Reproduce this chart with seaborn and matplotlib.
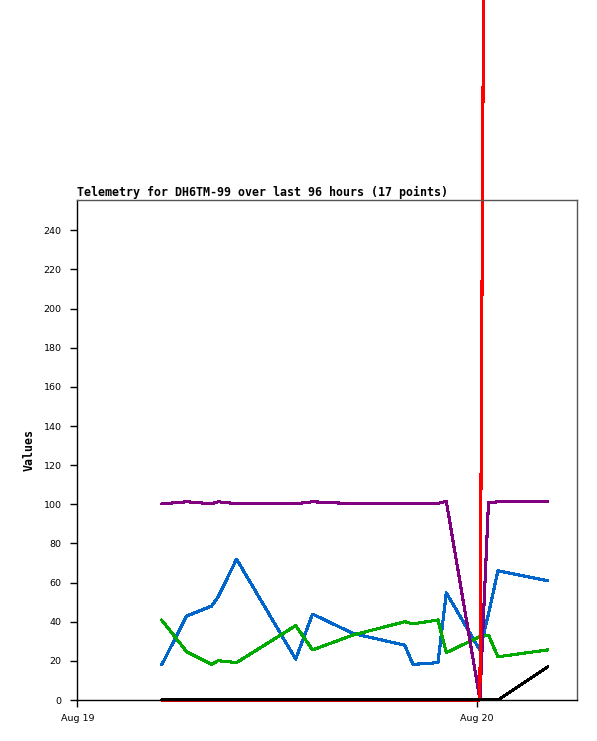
import pandas as pd
import seaborn as sns
import matplotlib.pyplot as plt
import matplotlib.dates as mdates

# sample times (Aug 19 2024, hh:mm, beyond 24h goes into Aug 20)
times = ["05:04", "06:34", "08:04", "08:28", "09:34", "13:07", "14:08", "16:34",
         "19:40", "20:10", "21:40", "22:10", "24:11", "24:42", "25:16", "28:16"]

blue_vals = [17.9, 42.9, 48.0, 52.8, 72.0, 20.9, 43.9, 34.0,
             28.0, 18.2, 19.1, 54.8, 25.5, 43.9, 66.0, 60.9]
green_vals = [40.9, 24.7, 18.3, 20.1, 19.1, 38.0, 25.6, 33.2,
              40.0, 38.9, 40.9, 24.2, 32.4, 33.2, 22.1, 25.6]
purple_vals = [100.2, 101.3, 100.3, 101.3, 100.3, 100.3, 101.3, 100.3,
               100.3, 100.3, 100.5, 101.5, 0.5, 100.8, 101.3, 101.3]
red_vals = [0, 0, 0, 0, 0, 0, 0, 0,
            0, 0, 0, 0, 0, 850, 850, 850]
black_vals = [0, 0, 0, 0, 0, 0, 0, 0,
              0, 0, 0, 0, 0, 0, 0, 17.0]

base = pd.Timestamp("2024-08-19")
stamps = [base + pd.Timedelta(hours=int(t.split(":")[0]), minutes=int(t.split(":")[1])) for t in times]

series = [("blue", blue_vals, "#0066cc"),
          ("green", green_vals, "#00aa00"),
          ("purple", purple_vals, "#800080"),
          ("red", red_vals, "#ff0000"),
          ("black", black_vals, "#000000")]

sns.set_theme(style="white")

fig = plt.figure(figsize=(5.97, 7.41), dpi=100)
ax = fig.add_axes([77.3 / 597, 41 / 741, 499.4 / 597, 500 / 741])

for name, vals, col in series:
    df = pd.DataFrame({"time": stamps, "value": vals})
    sns.lineplot(data=df, x="time", y="value", color=col, linewidth=1.5, ax=ax)
    ln = ax.lines[-1]
    ln.set_antialiased(False)
    if name == "red":
        # the spike runs off the top of the figure in the original
        ln.set_clip_on(False)

ax.set_xlim(base, base + pd.Timedelta(hours=30))
ax.set_ylim(0, 255.5)
ax.set_yticks(range(0, 241, 20))
ax.xaxis.set_major_locator(mdates.DayLocator())
ax.xaxis.set_major_formatter(mdates.DateFormatter("%b %d"))

ax.tick_params(axis="both", direction="out", length=5.3, width=1, color="black",
               labelsize=6.8, labelcolor="black")
ax.tick_params(axis="y", pad=6)
ax.tick_params(axis="x", pad=5)
ax.tick_params(left=True, bottom=True)

for s in ["left", "bottom"]:
    ax.spines[s].set_color("black")
    ax.spines[s].set_linewidth(1)
for s in ["top", "right"]:
    ax.spines[s].set_color("#555555")
    ax.spines[s].set_linewidth(1)

ax.set_xlabel("")
ax.set_ylabel("Values", fontfamily="DejaVu Sans Mono", fontweight="bold",
              fontsize=8.4, color="black")
ax.yaxis.set_label_coords(-0.083, 0.5)
ax.set_title("Telemetry for DH6TM-99 over last 96 hours (17 points)",
             loc="left", fontfamily="DejaVu Sans Mono", fontweight="bold",
             fontsize=8.35, color="black", pad=3)

fig.savefig("out.png", dpi=100)
